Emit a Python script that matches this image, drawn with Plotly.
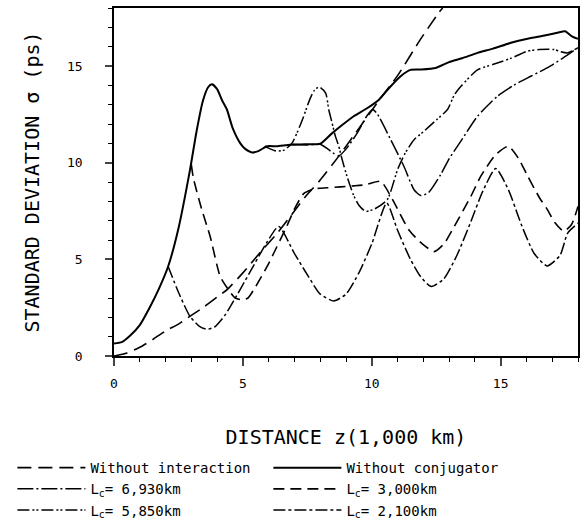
import plotly.graph_objects as go

# ---- data ----
x_noint = [0, 0.5, 1, 1.5, 2, 2.5, 3, 3.5, 4, 4.4, 5, 5.7, 6.3, 7, 7.4, 8, 8.7, 9.3, 10, 10.3, 11, 11.9, 12.6, 12.75]
y_noint = [0, 0.15, 0.45, 0.85, 1.3, 1.65, 2.1, 2.55, 3.05, 3.45, 4.3, 5.4, 6.3, 7.5, 8.2, 9.1, 10.3, 11.4, 12.7, 13.26, 14.5, 16.4, 17.76, 18.0]

x_noconj = [0, 0.3, 0.62, 1.0, 1.4, 1.75, 2.1, 2.5, 2.95, 3.2, 3.45, 3.65, 3.8, 4.0, 4.2, 4.38, 4.6, 4.9, 5.1, 5.35, 5.6, 5.94,
            6.3, 6.84, 7.4, 8.0, 8.4, 8.79, 9.3, 9.8, 10.28, 10.7, 11.12, 11.5, 11.9, 12.48, 13.0, 13.5, 14.1, 14.7, 15.4,
            16.0, 16.6, 17.2, 17.5, 17.75, 18.0]
y_noconj = [0.65, 0.72, 1.05, 1.6, 2.55, 3.5, 4.63, 6.6, 9.64, 11.6, 13.2, 13.9, 14.05, 13.8, 13.2, 12.75, 11.8, 11.0, 10.7, 10.53, 10.6, 10.85,
            10.85, 10.93, 10.95, 10.98, 11.45, 11.88, 12.4, 12.8, 13.26, 13.9, 14.47, 14.8, 14.82, 14.9, 15.2, 15.4, 15.68, 15.9, 16.2,
            16.4, 16.55, 16.72, 16.8, 16.55, 16.4]

x_6930 = [6.93, 7.5, 8.0, 8.3, 8.5, 8.72, 9.0, 9.44, 9.8, 10.03, 10.2, 10.73, 11.25, 11.64, 11.9, 12.2, 12.68, 13.0, 13.45,
          14.1, 14.88, 15.5, 16.17, 16.8, 17.4, 18.0]
y_6930 = [10.95, 10.92, 10.95, 10.7, 10.5, 10.35, 10.7, 11.54, 12.4, 12.75, 12.55, 11.2, 9.8, 8.6, 8.3, 8.45, 9.4, 10.2, 11.1,
          12.4, 13.44, 14.0, 14.47, 14.9, 15.4, 15.95]

x_5850 = [5.85, 6.0, 6.3, 6.6, 6.91, 7.1, 7.36, 7.49, 7.62, 7.75, 7.95, 8.21, 8.33, 8.46, 8.59, 8.72, 8.85, 9.04, 9.3, 9.5, 9.76,
          10.1, 10.6, 11.0, 11.3, 11.64, 12.0, 12.5, 12.94, 13.2, 13.46, 14.1, 14.75, 15.4, 16.05, 16.5, 17.08, 17.3, 17.6, 18.0]
y_5850 = [10.85, 10.75, 10.6, 10.65, 11.02, 11.54, 12.4, 12.9, 13.35, 13.7, 13.92, 13.6, 12.75, 12.05, 11.36, 10.85, 10.16, 9.29, 8.3, 7.8, 7.48,
          7.6, 8.08, 9.64, 10.5, 11.19, 11.6, 12.2, 12.75, 13.5, 13.95, 14.8, 15.1, 15.4, 15.77, 15.85, 15.85, 15.75, 15.68, 15.95]

x_3000 = [3.0, 3.08, 3.4, 3.73, 4.12, 4.4, 4.7, 5.0, 5.2, 5.5, 5.94, 6.3, 6.7, 7.0, 7.36, 7.8, 8.27, 8.8, 9.3, 9.76, 10.35, 10.8,
          11.45, 11.96, 12.42, 12.8, 13.2, 13.84, 14.23, 14.8, 15.3, 15.7, 16.05, 16.5, 16.82, 17.1, 17.45, 17.75, 18.0]
y_3000 = [9.9, 9.2, 7.6, 6.18, 4.11, 3.5, 3.0, 2.9, 3.0, 3.6, 4.63, 5.6, 6.7, 7.6, 8.4, 8.65, 8.7, 8.75, 8.8, 8.86, 9.03, 8.1,
          6.5, 5.8, 5.4, 5.8, 6.7, 8.25, 9.3, 10.4, 10.85, 10.2, 9.3, 8.2, 7.56, 6.9, 6.45, 6.8, 7.74]

x_2100 = [2.1, 2.5, 2.95, 3.3, 3.6, 3.9, 4.3, 4.7, 5.3, 5.94, 6.39, 7.0, 7.62, 8.0, 8.53, 9.0, 9.5, 10.0, 10.58, 11.0, 11.5,
          11.9, 12.31, 12.8, 13.3, 13.8, 14.3, 14.81, 15.3, 15.8, 16.3, 16.8, 17.3, 17.6, 18.0]
y_2100 = [4.63, 3.3, 2.04, 1.55, 1.38, 1.5, 2.1, 2.99, 4.4, 5.9, 6.7, 5.3, 3.94, 3.2, 2.85, 3.2, 4.3, 5.8, 7.91, 6.5, 5.0,
          4.1, 3.59, 4.0, 5.2, 6.8, 8.5, 9.7, 8.6, 6.8, 5.3, 4.66, 5.2, 6.36, 6.87]

x_ticks = [0, 5, 10, 15]
y_ticks = [0, 5, 10, 15]

FONT = "DejaVu Sans Mono"

series = [
    ("Without interaction", x_noint, y_noint, "14px,7px", 1.6),
    ("Without conjugator", x_noconj, y_noconj, "solid", 2.0),
    ("L<sub>c</sub>= 6,930km", x_6930, y_6930, "16px,3px,2px,3px", 1.5),
    ("L<sub>c</sub>= 3,000km", x_3000, y_3000, "11px,6px", 1.6),
    ("L<sub>c</sub>= 5,850km", x_5850, y_5850, "12px,3px,2px,2px,2px,3px", 1.5),
    ("L<sub>c</sub>= 2,100km", x_2100, y_2100, "12px,3px,3px,3px", 1.5),
]

fig = go.Figure()
for name, xs, ys, dash, w in series:
    fig.add_trace(go.Scatter(x=xs, y=ys, mode="lines", name=name,
                             line=dict(color="black", width=w, dash=dash, shape="spline", smoothing=0.6)))

fig.update_layout(
    width=583, height=518,
    margin=dict(l=114, r=5, t=8, b=162, autoexpand=False),
    paper_bgcolor="white", plot_bgcolor="white",
    font=dict(family=FONT, color="black", size=13),
    showlegend=True,
    legend=dict(orientation="h", xref="paper", yref="paper", x=-0.219, y=-0.276,
                xanchor="left", yanchor="top", entrywidth=173, itemwidth=68,
                font=dict(family=FONT, size=14), bgcolor="rgba(0,0,0,0)", traceorder="normal"),
)
fig.update_xaxes(range=[0, 18], tickvals=x_ticks, ticks="outside", ticklen=8, tickwidth=1.5,
                 showline=True, linecolor="black", linewidth=1.5, mirror=True, showgrid=False, zeroline=False,
                 tickfont=dict(family=FONT, size=13), ticklabelstandoff=7,
                 minor=dict(dtick=1, ticks="outside", ticklen=4, tickcolor="black", tickwidth=1.2),
                 title=dict(text="DISTANCE z(1,000 km)", font=dict(family=FONT, size=20), standoff=40))
fig.update_yaxes(range=[0, 18], tickvals=y_ticks, ticks="outside", ticklen=7, tickwidth=1.5,
                 showline=True, linecolor="black", linewidth=1.5, mirror=True, showgrid=False, zeroline=False,
                 tickfont=dict(family=FONT, size=13), ticklabelstandoff=20,
                 minor=dict(dtick=1, ticks="outside", ticklen=4, tickcolor="black", tickwidth=1.2),
                 title=dict(text="STANDARD DEVIATION σ (ps)", font=dict(family=FONT, size=20), standoff=22))

fig.write_html("out.html")
